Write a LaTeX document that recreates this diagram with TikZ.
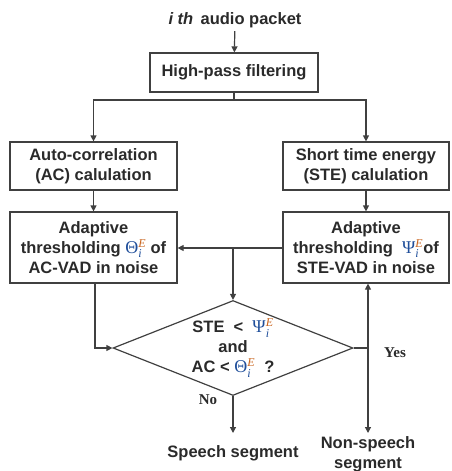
\documentclass[tikz,border=0pt]{standalone}
\usepackage{fontspec}
\setmainfont{Liberation Sans}
\newfontfamily\serifb{Liberation Serif}
\usetikzlibrary{shapes.geometric,arrows.meta}
\definecolor{ln}{HTML}{404040}
\definecolor{tx}{HTML}{2A2A2A}
\definecolor{mblue}{HTML}{1F4E9A}
\definecolor{morange}{HTML}{C8641E}
\newcommand{\mysym}[1]{$\mbox{\color{mblue}\fontsize{18}{18}\serifb\mdseries #1}^{\mbox{\color{morange}\fontsize{12}{12}\serifb\mdseries\itshape E}}_{\mbox{\color{mblue}\fontsize{12}{12}\serifb\mdseries\itshape i}}$}
\newcommand{\Th}{\mysym{Θ}}
\newcommand{\Ps}{\mysym{Ψ}}
\begin{document}
\begin{tikzpicture}[x=1pt,y=-1pt,
  every node/.style={font=\fontsize{16.5}{20}\selectfont\bfseries, text=tx},
  procbox/.style={draw=ln, line width=1.2pt, align=center, inner sep=0pt},
  conn/.style={draw=ln, line width=1.2pt},
  arr/.style={conn, -{Triangle[length=6pt,width=6pt]}},
  lbl/.style={font=\fontsize{15}{18}\selectfont\serifb\bfseries, text=tx}]
\useasboundingbox (0,0) rectangle (451,471);
\node (title) at (235,20) {\textit{i th}\, audio packet};
\node[procbox, minimum width=168pt, minimum height=39pt] (hp) at (234,72.5) {High-pass filtering};
\node[procbox, minimum width=167pt, minimum height=48pt] (ac) at (93.5,166) {Auto-correlation\\(AC) calulation};
\node[procbox, minimum width=166pt, minimum height=48pt] (ste) at (366,166) {Short time energy\\(STE) calulation};
\node[procbox, minimum width=167pt, minimum height=71pt] (adl) at (93.5,247.5) {Adaptive\\thresholding \Th\ of\\AC-VAD in noise};
\node[procbox, minimum width=166pt, minimum height=71pt] (adr) at (366,247.5) {Adaptive\\thresholding~ \Ps of\\STE-VAD in noise};
\node[draw=ln, line width=1.2pt, diamond, minimum width=240pt, minimum height=95pt, inner sep=0pt, align=center, aspect=2.5] (dec) at (233,348) {STE ~<~ \Ps\\and\\AC < \Th\ ~?};
\node (sp) at (233,453) {Speech segment};
\node[align=center] (nsp) at (368,454) {Non-speech\\segment};
\node[lbl] (yes) at (395,353) {Yes};
\node[lbl] (no) at (208,400) {No};
\coordinate (split) at (234,100);
\coordinate (jn) at (233,248);
\coordinate (rj) at (368,348);
\coordinate (lc) at (95,348);
\coordinate (spend) at (233,433);
\coordinate (nspend) at (368,433);
\draw[arr] (title) -- (hp);
\draw[conn] (hp.south) -- (split);
\draw[arr] (split) -| (ac.north);
\draw[arr] (split) -| (ste.north);
\draw[arr] (ac) -- (adl);
\draw[arr] (ste) -- (adr);
\draw[arr] (adr.west |- jn) -- (adl.east |- jn);
\draw[arr] (jn) -- (dec.north);
\draw[arr] (adl.south -| lc) -- (lc) -- (dec.west);
\draw[conn] (dec.east) -- (rj);
\draw[arr] (rj) -- (adr.south -| rj);
\draw[arr] (rj) -- (nspend);
\draw[arr] (dec.south) -- (spend);
\end{tikzpicture}
\end{document}
